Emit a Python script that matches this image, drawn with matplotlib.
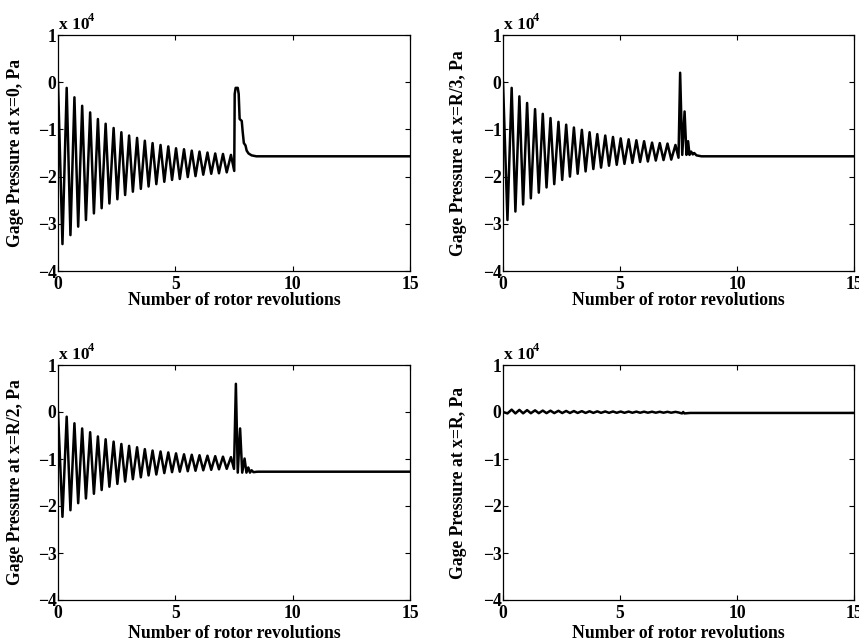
import numpy as np
import matplotlib
matplotlib.use("Agg")
import matplotlib.pyplot as plt

# font like the MATLAB Times bold output
plt.rcParams['font.family'] = ['Liberation Serif', 'DejaVu Serif']
plt.rcParams['font.weight'] = 'bold'
plt.rcParams['axes.labelweight'] = 'bold'

# oscillation timing (rotor revolutions), same for all four probes
trough_rev = [0.19, 0.53, 0.86, 1.19, 1.53, 1.86, 2.19, 2.53, 2.86, 3.19, 3.53,
              3.86, 4.19, 4.53, 4.86, 5.19, 5.53, 5.86, 6.19, 6.53, 6.86, 7.19]
peak_rev = [0.37, 0.70, 1.03, 1.37, 1.70, 2.03, 2.37, 2.70, 3.03, 3.37, 3.70,
            4.03, 4.37, 4.70, 5.03, 5.37, 5.70, 6.03, 6.37, 6.70, 7.03, 7.37]

# x = 0  (values in 1e4 Pa)
p0_start = 0.0
p0_peaks = [-0.12, -0.32, -0.50, -0.64, -0.78, -0.88, -0.97, -1.06, -1.13, -1.18, -1.24,
            -1.29, -1.33, -1.36, -1.40, -1.42, -1.45, -1.47, -1.49, -1.51, -1.52, -1.54]
p0_troughs = [-3.43, -3.24, -3.06, -2.92, -2.78, -2.67, -2.57, -2.48, -2.39, -2.32, -2.26,
              -2.21, -2.16, -2.11, -2.07, -2.05, -2.01, -1.99, -1.96, -1.94, -1.93, -1.91]
p0_tail_x = [7.51, 7.53, 7.57, 7.66, 7.70, 7.74, 7.83, 7.87, 7.92, 7.99, 8.04, 8.12, 8.25, 8.45, 15.0]
p0_tail_y = [-1.88, -0.25, -0.12, -0.12, -0.25, -0.78, -0.82, -1.05, -1.29, -1.34, -1.45, -1.51, -1.55, -1.57, -1.57]

# x = R/3
p3_start = 0.0
p3_peaks = [-0.12, -0.30, -0.44, -0.57, -0.67, -0.76, -0.84, -0.90, -0.96, -1.01, -1.06,
            -1.10, -1.13, -1.16, -1.19, -1.21, -1.23, -1.25, -1.28, -1.29, -1.30, -1.33]
p3_troughs = [-2.92, -2.74, -2.59, -2.46, -2.34, -2.23, -2.16, -2.07, -2.00, -1.94, -1.89,
              -1.84, -1.81, -1.77, -1.75, -1.73, -1.71, -1.69, -1.68, -1.66, -1.65, -1.64]
p3_tail_x = [7.50, 7.57, 7.66, 7.76, 7.84, 7.91, 7.97, 8.04, 8.11, 8.17, 8.27, 8.48, 15.0]
p3_tail_y = [-1.60, 0.20, -1.54, -0.62, -1.54, -1.25, -1.54, -1.47, -1.53, -1.50, -1.55, -1.57, -1.57]

# x = R/2
p2_start = 0.0
p2_peaks = [-0.10, -0.24, -0.35, -0.43, -0.52, -0.58, -0.63, -0.68, -0.72, -0.75, -0.79,
            -0.82, -0.84, -0.86, -0.88, -0.90, -0.91, -0.92, -0.93, -0.94, -0.95, -0.96]
p2_troughs = [-2.23, -2.09, -1.94, -1.84, -1.74, -1.66, -1.59, -1.53, -1.48, -1.43, -1.39,
              -1.35, -1.33, -1.30, -1.28, -1.27, -1.26, -1.25, -1.24, -1.23, -1.22, -1.21]
p2_tail_x = [7.50, 7.58, 7.66, 7.76, 7.85, 7.95, 8.03, 8.11, 8.18, 8.25, 8.33, 8.50, 15.0]
p2_tail_y = [-1.21, 0.60, -1.29, -0.35, -1.29, -0.99, -1.29, -1.18, -1.29, -1.24, -1.28, -1.27, -1.27]

# x = R
pR_start = 0.0
pR_peaks = [0.05, 0.045, 0.04, 0.035, 0.03, 0.028, 0.025, 0.022, 0.02, 0.018, 0.016,
            0.014, 0.012, 0.011, 0.010, 0.009, 0.008, 0.007, 0.006, 0.005, 0.004, 0.003]
pR_troughs = [-0.03, -0.03, -0.028, -0.026, -0.025, -0.024, -0.023, -0.022, -0.021, -0.02, -0.02,
              -0.019, -0.018, -0.018, -0.017, -0.017, -0.016, -0.016, -0.015, -0.015, -0.015, -0.015]
pR_tail_x = [7.50, 7.65, 7.70, 7.75, 8.00, 15.0]
pR_tail_y = [-0.01, -0.03, 0.0, -0.03, -0.02, -0.02]

panels = [
    ("Gage Pressure at x=0, Pa", p0_start, p0_troughs, p0_peaks, p0_tail_x, p0_tail_y),
    ("Gage Pressure at x=R/3, Pa", p3_start, p3_troughs, p3_peaks, p3_tail_x, p3_tail_y),
    ("Gage Pressure at x=R/2, Pa", p2_start, p2_troughs, p2_peaks, p2_tail_x, p2_tail_y),
    ("Gage Pressure at x=R, Pa", pR_start, pR_troughs, pR_peaks, pR_tail_x, pR_tail_y),
]

# axes boxes in pixels (left, top, right, bottom) of the 859x642 figure,
# plus where the axis labels sit (axes fraction)
W, H = 859, 642
boxes = [(58, 35, 410, 271), (503, 35, 854, 271),
         (58, 365, 410, 600), (503, 365, 854, 600)]
xlab_y = [-0.09, -0.09, -0.108, -0.108]
ylab_x = [-0.097, -0.102, -0.097, -0.102]

fig = plt.figure(figsize=(W / 100, H / 100), dpi=100)

for i, ((ylab, start, troughs, peaks, tx, ty), (l, t, r, b)) in enumerate(zip(panels, boxes)):
    ax = fig.add_axes([l / W, (H - b) / H, (r - l) / W, (b - t) / H])

    x = [0.0]
    y = [start]
    for tr, pk, vt, vp in zip(trough_rev, peak_rev, troughs, peaks):
        x += [tr, pk]
        y += [vt, vp]
    x += tx
    y += ty

    ax.plot(x, y, color='black', lw=1.8, solid_joinstyle='round')
    ax.set_xlim(0, 15)
    ax.set_ylim(-4, 1)
    ax.set_xticks([0, 5, 10, 15])
    ax.set_yticks([-4, -3, -2, -1, 0, 1])
    ax.set_yticklabels(['\u22124', '\u22123', '\u22122', '\u22121', '0', '1'])
    ax.tick_params(direction='in', top=True, right=True, length=3.5, width=0.8,
                   labelsize=12.7)
    ax.tick_params(axis='x', pad=3.5)
    ax.tick_params(axis='y', pad=1.0)
    for s in ax.spines.values():
        s.set_linewidth(0.9)
    ax.set_xlabel("Number of rotor revolutions", fontsize=12.7)
    ax.set_ylabel(ylab, fontsize=12.7)
    ax.xaxis.set_label_coords(0.5, xlab_y[i])
    ax.yaxis.set_label_coords(ylab_x[i], 0.5)

    ax.text(0.003, 1.008, "x 10", transform=ax.transAxes, fontsize=12.5,
            ha='left', va='bottom')
    ax.text(0.085, 1.045, "4", transform=ax.transAxes, fontsize=9,
            ha='left', va='bottom')

fig.savefig("out.png", dpi=100)
